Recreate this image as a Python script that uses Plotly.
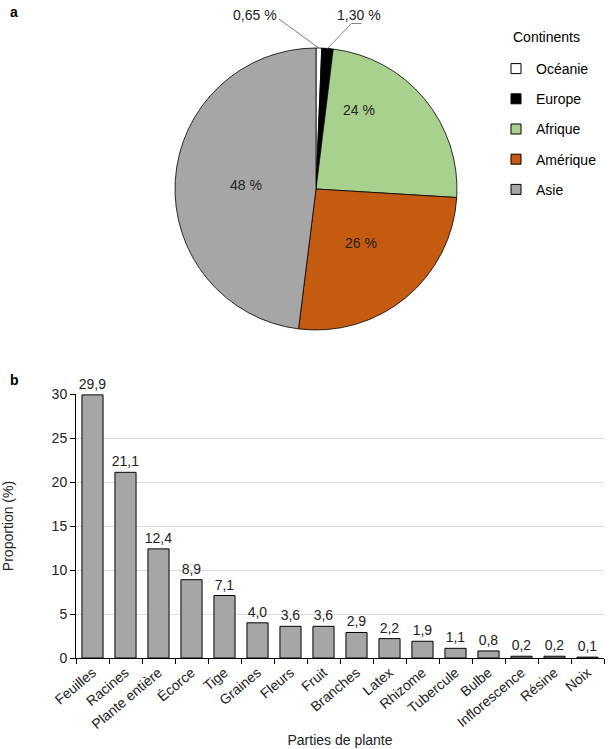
import math
import plotly.graph_objects as go

# ---- data ----
continents = ["Océanie", "Europe", "Afrique", "Amérique", "Asie"]
continent_pct = [0.65, 1.30, 24, 26, 48]
continent_labels = ["0,65 %", "1,30 %", "24 %", "26 %", "48 %"]
continent_colors = ["#ffffff", "#000000", "#a9d18e", "#c55a11", "#a6a6a6"]

parts = ["Feuilles", "Racines", "Plante entière", "Écorce", "Tige", "Graines", "Fleurs",
         "Fruit", "Branches", "Latex", "Rhizome", "Tubercule", "Bulbe", "Inflorescence",
         "Résine", "Noix"]
proportion = [29.9, 21.1, 12.4, 8.9, 7.1, 4.0, 3.6, 3.6, 2.9, 2.2, 1.9, 1.1, 0.8, 0.2, 0.2, 0.1]

# ---- style ----
FONT = "Liberation Sans, Arial, sans-serif"
TXT = "#222222"
W, H = 612, 749
ML, MR, MT, MB = 76, 8, 0, 91
PW, PH = W - ML - MR, H - MT - MB

def px2x(p):
    return (p - ML) / PW

def px2y(p):
    return (PH - (p - MT)) / PH

# pie geometry (pixels)
CX, CY, R = 316, 189, 141
# inside label placement: radius fraction and angle nudge (deg); None => outside label
inside_r = [None, None, 0.64, 0.50, 0.50]
inside_nudge = [0, 0, -21.6, 0, 0]
# outside label leader paths, relative to slice tip (px): list of points, then label centre
outside_style = {
    0: dict(path=[(-40, -29)], label=(-64, -33)),
    1: dict(path=[(24, -25), (34, -25)], label=(31, -33)),
}

fig = go.Figure()

fig.add_trace(go.Pie(
    labels=continents, values=continent_pct, sort=False, direction="clockwise",
    rotation=0,
    marker=dict(colors=continent_colors, line=dict(color="#000000", width=0.8)),
    textinfo="none",
    domain=dict(x=[px2x(CX - R), px2x(CX + R)], y=[px2y(CY + R), px2y(CY - R)]),
    showlegend=False, hoverinfo="label+percent",
))

# legend entries
for name, col in zip(continents, continent_colors):
    fig.add_trace(go.Scatter(
        x=[None], y=[None], mode="markers", name=name, legendgroup=name,
        marker=dict(symbol="square", size=10, color=col, line=dict(color="#000000", width=1)),
        xaxis="x3", yaxis="y3", showlegend=True,
    ))

fig.add_trace(go.Bar(
    x=parts, y=proportion,
    marker=dict(color="#a6a6a6", line=dict(color="#000000", width=1)),
    text=[f"{v:.1f}".replace(".", ",") for v in proportion],
    textposition="outside", cliponaxis=False, constraintext="none",
    textfont=dict(family=FONT, size=14, color=TXT),
    showlegend=False, xaxis="x2", yaxis="y2",
))

annos = []
shapes = []
total = sum(continent_pct)
cum = 0
for i, v in enumerate(continent_pct):
    mid = (cum + v / 2) / total * 360
    cum += v
    if inside_r[i] is not None:
        a = math.radians(mid + inside_nudge[i])
        rr = R * inside_r[i]
        lx, ly = CX + rr * math.sin(a), CY - rr * math.cos(a)
    else:
        a = math.radians(mid)
        tx, ty = CX + R * math.sin(a), CY - R * math.cos(a)
        st = outside_style[i]
        pts = [(tx, ty)] + [(tx + dx, ty + dy) for dx, dy in st["path"]]
        for (x0, y0), (x1, y1) in zip(pts[:-1], pts[1:]):
            shapes.append(dict(type="line", xref="paper", yref="paper",
                               x0=px2x(x0), y0=px2y(y0), x1=px2x(x1), y1=px2y(y1),
                               line=dict(color="#808080", width=1)))
        lx, ly = tx + st["label"][0], ty + st["label"][1]
    annos.append(dict(x=px2x(lx), y=px2y(ly), xref="paper", yref="paper",
                      xanchor="center", yanchor="middle",
                      text=continent_labels[i], showarrow=False,
                      font=dict(family=FONT, size=14, color=TXT)))

annos += [
    dict(x=px2x(8), y=px2y(12), xref="paper", yref="paper", text="<b>a</b>", showarrow=False,
         xanchor="left", yanchor="middle", font=dict(family=FONT, size=14, color="#000")),
    dict(x=px2x(8), y=px2y(380), xref="paper", yref="paper", text="<b>b</b>", showarrow=False,
         xanchor="left", yanchor="middle", font=dict(family=FONT, size=14, color="#000")),
    dict(x=px2x(511), y=px2y(37), xref="paper", yref="paper", text="Continents", showarrow=False,
         xanchor="left", yanchor="middle", font=dict(family=FONT, size=14, color="#000")),
]

fig.update_layout(
    width=W, height=H, margin=dict(l=ML, r=MR, t=MT, b=MB, autoexpand=False),
    paper_bgcolor="#ffffff", plot_bgcolor="#ffffff",
    font=dict(family=FONT, size=14, color=TXT),
    bargap=0.36,
    legend=dict(x=px2x(496), y=px2y(53), xanchor="left", yanchor="top",
                font=dict(family=FONT, size=14, color="#000"), tracegroupgap=9,
                bgcolor="rgba(0,0,0,0)"),
    annotations=annos,
    shapes=shapes,
    xaxis3=dict(visible=False, domain=[0, 0.01]),
    yaxis3=dict(visible=False, domain=[0.99, 1]),
    xaxis2=dict(domain=[0, 1], anchor="y2", type="category", tickangle=-40,
                tickson="boundaries", ticks="outside", ticklen=5, tickcolor="#000",
                showline=True, linecolor="#000", linewidth=1, showgrid=False,
                automargin=False,
                tickfont=dict(family=FONT, size=14, color=TXT),
                title=dict(text="Parties de plante", font=dict(family=FONT, size=14, color=TXT),
                           standoff=4),
                range=[-0.5, len(parts) - 0.5]),
    yaxis2=dict(domain=[0, px2y(394)], anchor="x2", range=[0, 30], dtick=5,
                ticks="outside", ticklen=5, tickcolor="#000", showline=True, linecolor="#000",
                linewidth=1, showgrid=True, gridcolor="#dddddd", zeroline=False,
                automargin=False,
                tickfont=dict(family=FONT, size=14, color=TXT),
                title=dict(text="Proportion (%)", font=dict(family=FONT, size=14, color=TXT),
                           standoff=34)),
)

fig.write_html("out.html")
